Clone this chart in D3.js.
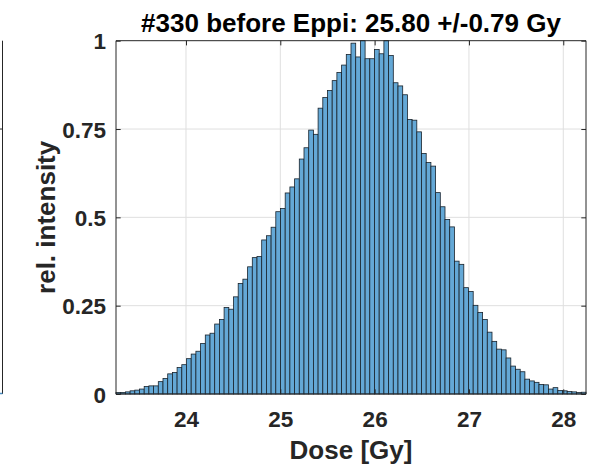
<!DOCTYPE html>
<html>
<head>
<meta charset="utf-8">
<script src="https://cdn.jsdelivr.net/npm/d3@7"></script>
<style>
  html, body { margin: 0; padding: 0; background: #fff; }
  svg { display: block; }
  text { font-family: "Liberation Sans", Arial, Helvetica, sans-serif; font-weight: bold; fill: #262626; }
</style>
</head>
<body>
<svg id="chart" width="598" height="464"></svg>
<script>
// Dose histogram: 100 equal bins between the minimum and maximum dose
const doseMin = 23.258;
const doseMax = 28.241;
const binCount = 100;

// Relative intensity of each bin (normalised to the tallest bin)
const relIntensity = [
  0.004, 0.004, 0.006, 0.009, 0.011, 0.014, 0.021, 0.023, 0.023, 0.035,
  0.044, 0.057, 0.061, 0.075, 0.083, 0.100, 0.113, 0.121, 0.143, 0.167,
  0.172, 0.198, 0.211, 0.245, 0.240, 0.275, 0.313, 0.325, 0.360, 0.386,
  0.389, 0.436, 0.448, 0.472, 0.516, 0.525, 0.569, 0.586, 0.609, 0.665,
  0.697, 0.747, 0.735, 0.809, 0.839, 0.859, 0.887, 0.910, 0.931, 0.961,
  0.993, 0.954, 1.000, 0.949, 0.949, 0.975, 0.963, 1.000, 0.958, 0.881,
  0.872, 0.847, 0.777, 0.775, 0.742, 0.681, 0.655, 0.645, 0.570, 0.530,
  0.494, 0.473, 0.376, 0.367, 0.301, 0.290, 0.251, 0.231, 0.211, 0.175,
  0.149, 0.127, 0.125, 0.102, 0.079, 0.070, 0.063, 0.042, 0.037, 0.033,
  0.027, 0.026, 0.014, 0.018, 0.010, 0.009, 0.007, 0.006, 0.004, 0.005
];

const xTicks = [24, 25, 26, 27, 28];
const yTicks = [0, 0.25, 0.5, 0.75, 1];
const yTickLabels = ["0", "0.25", "0.5", "0.75", "1"];

const titleText = "#330 before Eppi: 25.80 +/-0.79 Gy";
const xLabel = "Dose [Gy]";
const yLabel = "rel. intensity";

const svg = d3.select("#chart");
const plot = { left: 116, right: 586, top: 40.7, bottom: 394 };

const x = d3.scaleLinear().domain([doseMin, doseMax]).range([plot.left, plot.right]);
const y = d3.scaleLinear().domain([0, 1]).range([plot.bottom, plot.top]);

const binWidth = (doseMax - doseMin) / binCount;
const bins = relIntensity.map((v, i) => ({
  x0: doseMin + i * binWidth,
  x1: doseMin + (i + 1) * binWidth,
  v
}));

const axisColor = "#262626";
const gridColor = "#dfdfdf";
const tickLen = 4.7;

// Fragment of the neighbouring panel on the left edge
const leftPanel = svg.append("g");
leftPanel.append("line")
  .attr("x1", 2.5).attr("x2", 2.5).attr("y1", plot.top).attr("y2", plot.bottom)
  .attr("stroke", axisColor).attr("stroke-width", 1);
leftPanel.append("line")
  .attr("x1", 0).attr("x2", 2.5).attr("y1", y(0.75)).attr("y2", y(0.75))
  .attr("stroke", axisColor).attr("stroke-width", 1);
leftPanel.append("line")
  .attr("x1", 0).attr("x2", 2.5).attr("y1", plot.bottom - 0.5).attr("y2", plot.bottom - 0.5)
  .attr("stroke", "#4a8fc4").attr("stroke-width", 1.5);

// Grid
const grid = svg.append("g");
grid.selectAll("line.gx").data(xTicks).join("line")
  .attr("x1", d => x(d)).attr("x2", d => x(d))
  .attr("y1", plot.top).attr("y2", plot.bottom)
  .attr("stroke", gridColor).attr("stroke-width", 1);
grid.selectAll("line.gy").data(yTicks.filter(d => d > 0 && d < 1)).join("line")
  .attr("x1", plot.left).attr("x2", plot.right)
  .attr("y1", d => y(d)).attr("y2", d => y(d))
  .attr("stroke", gridColor).attr("stroke-width", 1);

// Bars
svg.append("g").selectAll("rect").data(bins).join("rect")
  .attr("x", d => x(d.x0))
  .attr("y", d => y(d.v))
  .attr("width", d => x(d.x1) - x(d.x0))
  .attr("height", d => y(0) - y(d.v))
  .attr("fill", "#64a8d6")
  .attr("stroke", "#18222b")
  .attr("stroke-width", 0.8);

// Axes (box with inward ticks)
const xAxisBottom = d3.axisBottom(x).tickValues(xTicks).tickSize(-tickLen).tickPadding(17).tickFormat(d3.format("d"));
const xAxisTop = d3.axisTop(x).tickValues(xTicks).tickSize(-tickLen).tickFormat("");
const yAxisLeft = d3.axisLeft(y).tickValues(yTicks).tickSize(-tickLen).tickPadding(10)
  .tickFormat((d, i) => yTickLabels[i]);
const yAxisRight = d3.axisRight(y).tickValues(yTicks).tickSize(-tickLen).tickFormat("");

function styleAxis(g) {
  g.select(".domain").attr("stroke", axisColor).attr("stroke-width", 1);
  g.selectAll(".tick line").attr("stroke", axisColor).attr("stroke-width", 1);
  g.selectAll(".tick text").attr("fill", axisColor)
    .style("font-size", "22.5px").style("font-weight", "bold")
    .style("font-family", "'Liberation Sans', Arial, sans-serif");
}

svg.append("g").attr("transform", `translate(0,${plot.bottom})`).call(xAxisBottom).call(styleAxis)
  .call(g => g.select(".domain").attr("d", `M${plot.left},0H${plot.right}`));
svg.append("g").attr("transform", `translate(0,${plot.top})`).call(xAxisTop).call(styleAxis)
  .call(g => g.select(".domain").attr("d", `M${plot.left},0H${plot.right}`));
svg.append("g").attr("transform", `translate(${plot.left},0)`).call(yAxisLeft).call(styleAxis)
  .call(g => g.select(".domain").attr("d", `M0,${plot.top}V${plot.bottom}`))
  .call(g => g.selectAll(".tick text").attr("dy", "0.36em"));
svg.append("g").attr("transform", `translate(${plot.right},0)`).call(yAxisRight).call(styleAxis)
  .call(g => g.select(".domain").attr("d", `M0,${plot.top}V${plot.bottom}`));

// Title and axis labels
svg.append("text")
  .attr("x", (plot.left + plot.right) / 2).attr("y", 31.5)
  .attr("text-anchor", "middle")
  .style("font-size", "26px").style("fill", "#000")
  .text(titleText);

svg.append("text")
  .attr("x", (plot.left + plot.right) / 2).attr("y", 459)
  .attr("text-anchor", "middle")
  .style("font-size", "26px")
  .text(xLabel);

svg.append("text")
  .attr("transform", `translate(55,${(plot.top + plot.bottom) / 2}) rotate(-90)`)
  .attr("text-anchor", "middle")
  .style("font-size", "26px")
  .text(yLabel);
</script>
</body>
</html>
